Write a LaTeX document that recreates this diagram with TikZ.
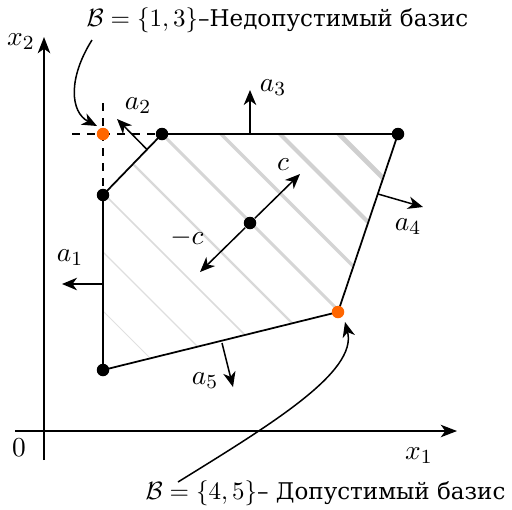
\documentclass[tikz,border=0pt]{standalone}
\usepackage{fontspec}
\newfontfamily\rufont{DejaVu Serif}
\usetikzlibrary{arrows.meta}
\definecolor{dotorange}{RGB}{255,102,0}
\begin{document}
\begin{tikzpicture}[x=0.4pt,y=-0.4pt,
  vec/.style={-{Stealth[length=6pt,width=5pt,inset=1.8pt]}, line width=0.6pt},
  axis/.style={-{Stealth[length=6.5pt,width=5pt,inset=1.8pt]}, line width=0.6pt},
  edge/.style={line width=0.7pt},
  guide/.style={dashed, line width=0.5pt},
  vdot/.style={circle, fill=black, inner sep=0pt, minimum size=5pt},
  odot/.style={circle, fill=dotorange, inner sep=0pt, minimum size=5pt},
  lbl/.style={inner sep=0pt, font=\fontsize{11}{13}\selectfont},
  note/.style={inner sep=0pt, anchor=west}
]
\useasboundingbox (0,0) rectangle (512,509);

% vertices
\coordinate (P1) at (162,134);
\coordinate (P2) at (398,134);
\coordinate (P3) at (338,312);
\coordinate (P4) at (103,370);
\coordinate (P5) at (103,195);
\coordinate (Q) at (103,134);

% hatching (level lines of the objective)
\begin{scope}
  \clip (P1) -- (P2) -- (P3) -- (P4) -- (P5) -- cycle;
  \foreach \k/\w/\g in {-208/0.35/12,-149/0.5/13,-90/0.7/14,-31/0.9/15,28/1.15/16,87/1.4/17,146/1.65/18,205/1.9/19}{
    \draw[line width=\w pt, color=black!\g] (40,40-\k) -- (460,460-\k);
  }
\end{scope}

% axes
\coordinate (xs) at (15,431);
\coordinate (xe) at (457,431);
\coordinate (ys) at (44,460);
\coordinate (ye) at (44,37);
\draw[axis] (xs) -- (xe);
\draw[axis] (ys) -- (ye);
\node[lbl] (l0) at (19,448) {$0$};
\node[lbl] (lx1) at (419,456) {$x_1$};
\node[lbl] (lx2) at (21,42) {$x_2$};

% dashed guides
\coordinate (gh) at (72,134);
\coordinate (gv) at (103,103);
\draw[guide] (gh) -- (P1);
\draw[guide] (gv) -- (P5);

% polygon
\draw[edge] (P1) -- (P2) -- (P3) -- (P4) -- (P5) -- cycle;

% normals
\coordinate (a1s) at (103,284); \coordinate (a1e) at (62,284);
\coordinate (a2s) at (147,149.5); \coordinate (a2e) at (117,119);
\coordinate (a3s) at (250,134); \coordinate (a3e) at (250,90);
\coordinate (a4s) at (378,194); \coordinate (a4e) at (423,207);
\coordinate (a5s) at (222,343); \coordinate (a5e) at (233,387);
\draw[vec] (a1s) -- (a1e);
\draw[vec] (a2s) -- (a2e);
\draw[vec] (a3s) -- (a3e);
\draw[vec] (a4s) -- (a4e);
\draw[vec] (a5s) -- (a5e);
\node[lbl] (la1) at (70,258) {$a_1$};
\node[lbl] (la2) at (138,106) {$a_2$};
\node[lbl] (la3) at (273,88) {$a_3$};
\node[lbl] (la4) at (408,227) {$a_4$};
\node[lbl] (la5) at (205,381) {$a_5$};

% objective
\node[vdot] (C) at (250,223) {};
\coordinate (cp) at (300,174);
\coordinate (cm) at (200,272);
\draw[vec] (C) -- (cp);
\draw[vec] (C) -- (cm);
\node[lbl] (lc) at (283,165) {$c$};
\node[lbl] (lmc) at (187,238) {$-c$};

% vertex dots
\node[vdot] (v1) at (P1) {};
\node[vdot] (v2) at (P2) {};
\node[vdot] (v4) at (P4) {};
\node[vdot] (v5) at (P5) {};
\node[odot] (vq) at (Q) {};
\node[odot] (v3) at (P3) {};

% annotations
\node[note] (tt) at (86,20) {$\mathcal{B}=\{1,3\}$\rufont\fontsize{9.2}{11}\selectfont{}–Недопустимый базис};
\node[note] (bt) at (145,493) {$\mathcal{B}=\{4,5\}$\rufont\fontsize{9.2}{11}\selectfont{}– Допустимый базис};
\coordinate (ts) at (92,40);
\coordinate (te) at (97,126);
\draw[vec] (ts) .. controls (68,78) and (70,112) .. (te);
\coordinate (bs) at (178,482);
\coordinate (be) at (345,322);
\draw[vec] (bs) .. controls (270,425) and (358,372) .. (be);
\end{tikzpicture}
\end{document}
